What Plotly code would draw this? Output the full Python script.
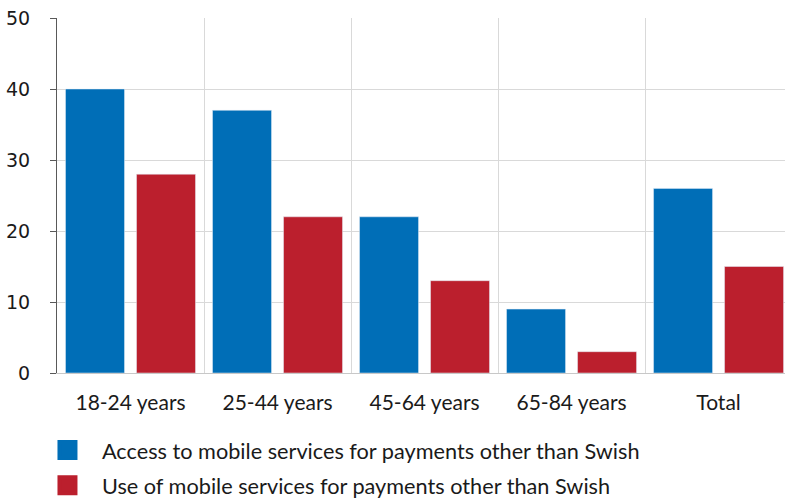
import plotly.graph_objects as go

categories = ["18-24 years", "25-44 years", "45-64 years", "65-84 years", "Total"]
access = [40, 37, 22, 9, 26]
use = [28, 22, 13, 3, 15]
series_names = [
    "Access to mobile services for payments other than Swish",
    "Use of mobile services for payments other than Swish",
]
y_ticks = [0, 10, 20, 30, 40, 50]

BLUE = "#006EB7"
RED = "#BB1F2D"
TEXT_FONT = "Lato"

fig = go.Figure()
fig.add_trace(go.Bar(x=categories, y=access, marker_color=BLUE, showlegend=False))
fig.add_trace(go.Bar(x=categories, y=use, marker_color=RED, showlegend=False))

# legend-only entries with larger squares
for i, (name, col) in enumerate(zip(series_names, [BLUE, RED])):
    fig.add_trace(go.Scatter(
        x=[None], y=[None], mode="markers", name=name, legendgroup=f"g{i}",
        marker=dict(symbol="square", size=16, color=col, line=dict(color=col, width=4)),
    ))

fig.update_layout(
    width=785, height=499,
    margin=dict(l=57, r=0, t=18, b=126, autoexpand=False),
    plot_bgcolor="white", paper_bgcolor="white",
    barmode="group", bargap=0.034, bargroupgap=0.169,
    font=dict(family=TEXT_FONT, size=21, color="#1a1a1a"),
    legend=dict(
        x=-0.033, y=-0.159, xanchor="left", yanchor="top",
        orientation="v", font=dict(size=21.7, family=TEXT_FONT),
        itemwidth=59, tracegroupgap=4,
    ),
)

fig.update_xaxes(
    type="category", range=[-0.5, 4.452],
    tickson="boundaries", showgrid=True, gridcolor="#d9d9d9", gridwidth=1,
    ticks="", showline=True, linecolor="#c8c8c8", linewidth=1,
    ticklabelstandoff=11, tickfont=dict(family=TEXT_FONT, size=21),
)
fig.update_yaxes(
    range=[0, 50], tickvals=y_ticks, showgrid=True, gridcolor="#d9d9d9", gridwidth=1,
    showline=True, linecolor="#595959", linewidth=1,
    ticks="outside", ticklen=6, tickcolor="#595959",
    ticklabelstandoff=16, tickfont=dict(family="DejaVu Sans", size=19),
    zeroline=False,
)

fig.write_html("out.html")
